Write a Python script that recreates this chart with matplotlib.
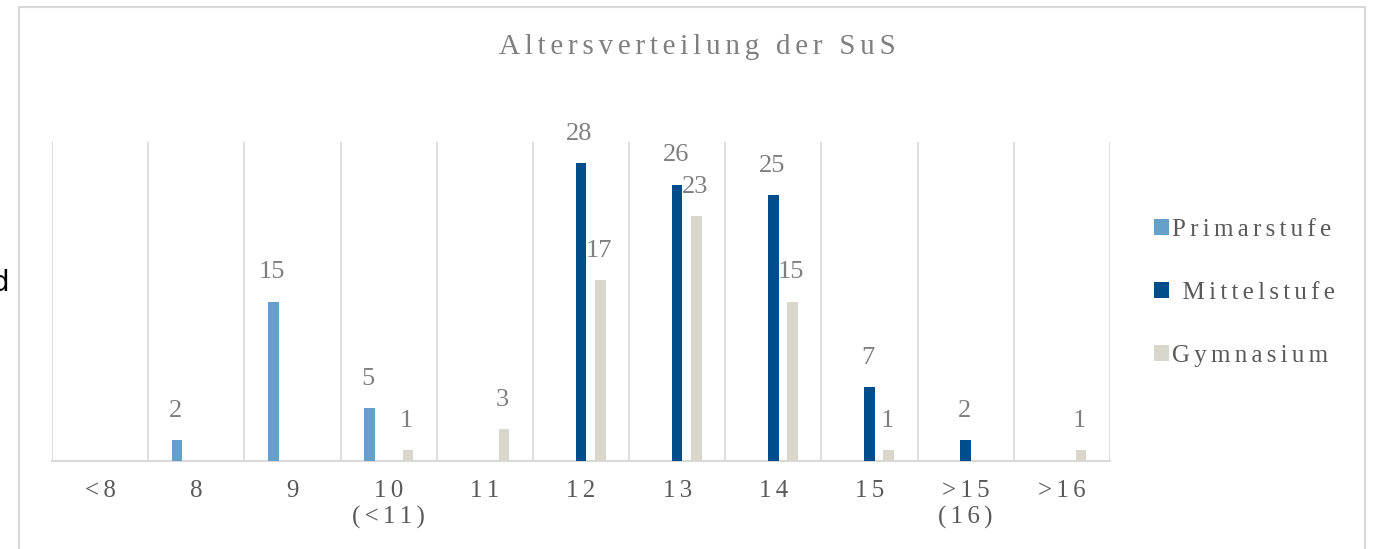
import matplotlib
matplotlib.use("Agg")
import matplotlib.pyplot as plt
from matplotlib.patches import Rectangle
import numpy as np

categories = ["<8", "8", "9", "10\n(<11)", "11", "12", "13", "14", "15", ">15\n(16)", ">16"]
primarstufe = [0, 2, 15, 5, 0, 0, 0, 0, 0, 0, 0]
mittelstufe = [0, 0, 0, 0, 0, 28, 26, 25, 7, 2, 0]
gymnasium = [0, 0, 0, 1, 3, 17, 23, 15, 1, 0, 1]
series_names = ["Primarstufe", " Mittelstufe", "Gymnasium"]
title = "Altersverteilung der SuS"

colors = ["#64a0ca", "#004d8c", "#d9d7cc"]
SERIF = ["Liberation Serif", "DejaVu Serif"]
HS2 = "\u200a\u200a"


def track(s, sp=HS2):
    return "\n".join(sp.join(line) for line in s.split("\n"))


W, H = 1373, 549
fig = plt.figure(figsize=(W / 100, H / 100), dpi=100)
ax = fig.add_axes([52 / W, 1 - 461 / H, (1110 - 52) / W, (461 - 142) / H])

x = np.arange(len(categories))
bw = 0.11
offs = [-0.2, 0.0, 0.2]
bars = []
for vals, off, c, name in zip([primarstufe, mittelstufe, gymnasium], offs, colors, series_names):
    b = ax.bar(x + off, vals, width=bw, color=c, label=track(name), zorder=3)
    bars.append(b)
    for xi, v in zip(x, vals):
        if v > 0:
            ax.annotate(str(v), (xi + off, v), xytext=(-1, 13), textcoords="offset points",
                        ha="center", va="bottom", fontsize=19, color="#7f7f7f", family=SERIF,
                        zorder=4)

ax.set_xlim(-0.5, len(categories) - 0.5)
ax.set_ylim(0, 30)
ax.set_xticks(x)
ax.set_xticklabels([track(c) for c in categories], fontsize=18, color="#595959", family=SERIF,
                   linespacing=1.2)
ax.tick_params(axis="x", length=0, pad=14)
ax.set_yticks([])
for b in np.arange(-0.5, len(categories), 1.0):
    ax.axvline(b, color="#d9d9d9", lw=1.2, zorder=1)
for s in ["left", "right", "top"]:
    ax.spines[s].set_visible(False)
ax.spines["bottom"].set_color("#d9d9d9")
ax.spines["bottom"].set_linewidth(1.5)

fig.text(697 / W, 1 - 47 / H, track(title), ha="center", va="center", fontsize=21,
         color="#7f7f7f", family=SERIF)

leg = fig.legend(handles=bars, loc="upper left", bbox_to_anchor=(1131 / W, 1 - 196 / H),
                 frameon=False, labelspacing=1.65, handlelength=0.6,
                 handleheight=0.6, handletextpad=0.15, prop={"family": SERIF, "size": 18})
for t in leg.get_texts():
    t.set_color("#595959")

frame = Rectangle((19 / W, -0.05), (1365 - 19) / W, 1 - 7 / H + 0.05, transform=fig.transFigure,
                  fill=False, edgecolor="#d9d9d9", lw=1.5)
fig.patches.append(frame)

fig.text(9 / W, 1 - 283 / H, "d", ha="right", va="center", fontsize=20, color="black",
         family="DejaVu Sans")

fig.savefig("out.png", dpi=100)
